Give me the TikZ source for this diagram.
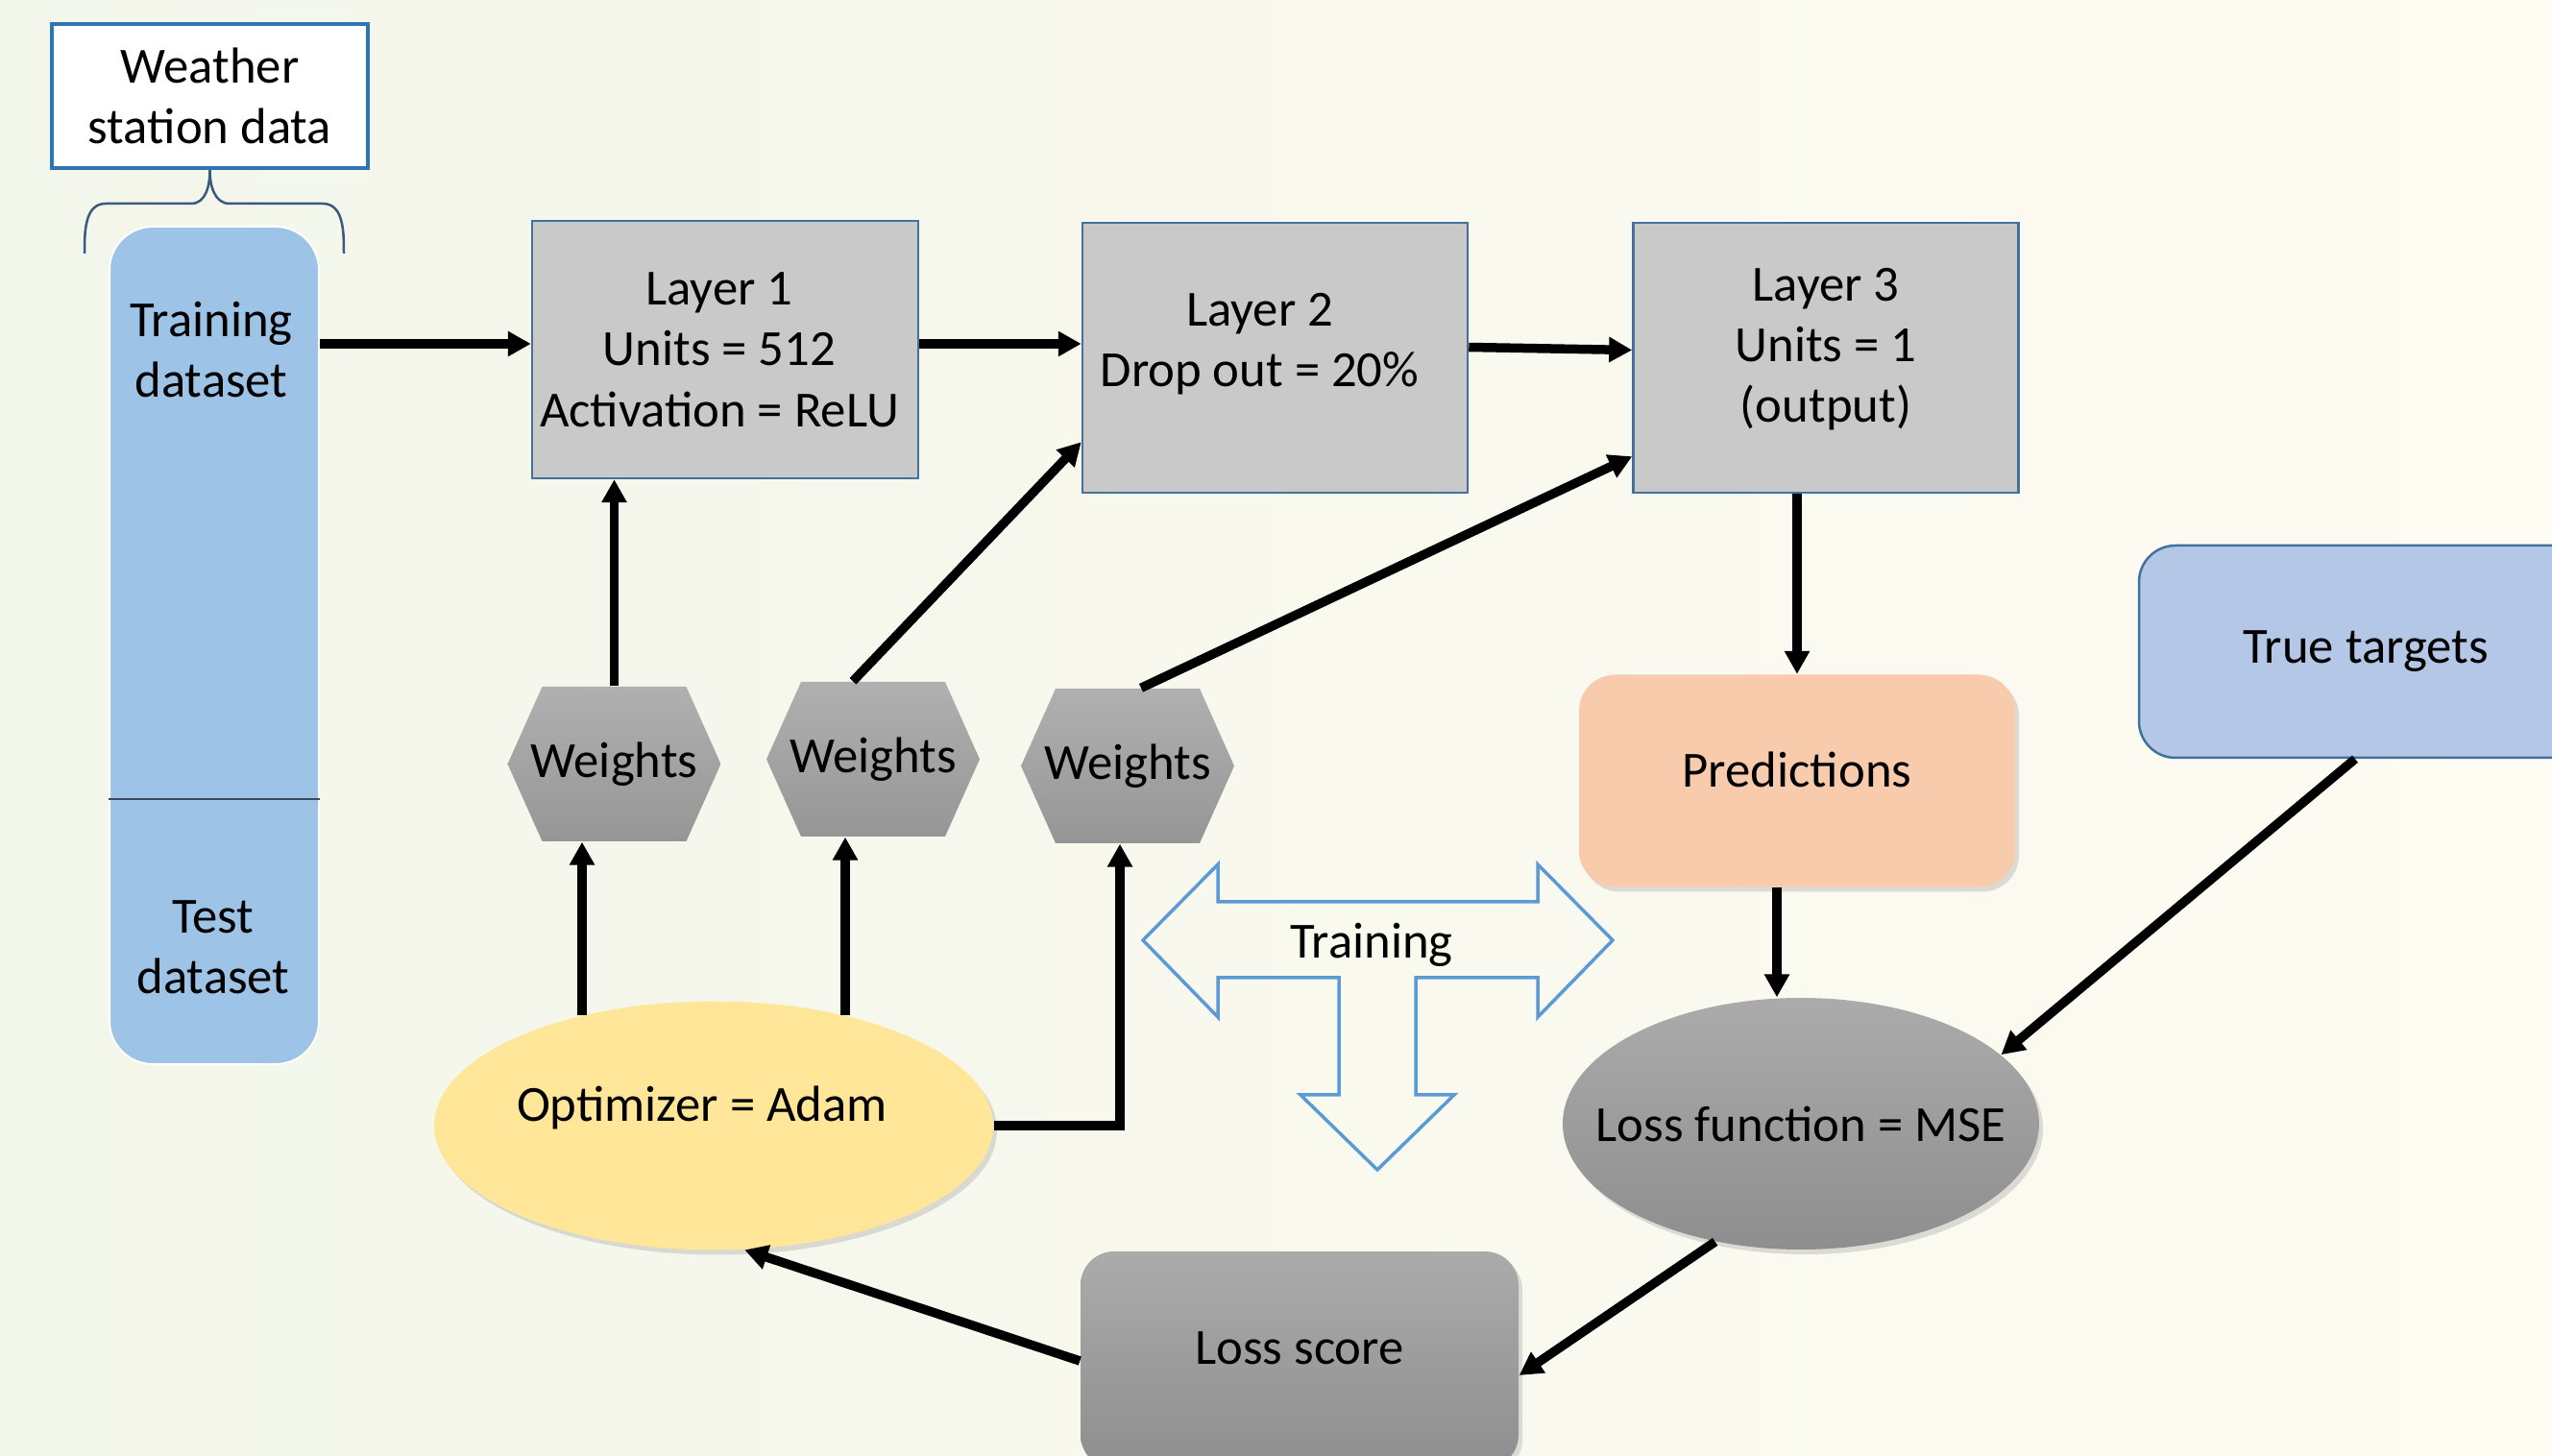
\documentclass[tikz,border=0pt]{standalone}
\usepackage{fontspec}
\setmainfont{Carlito}
\usepackage{tikz}
\usetikzlibrary{arrows.meta,positioning,shapes.geometric,shadows}
\definecolor{bgleft}{RGB}{243,246,234}
\definecolor{bgright}{RGB}{254,251,242}
\definecolor{wsblue}{RGB}{46,117,182}
\definecolor{bracecol}{RGB}{59,90,125}
\definecolor{colblue}{RGB}{157,195,230}
\definecolor{divcol}{RGB}{58,74,92}
\definecolor{boxblue}{RGB}{65,113,156}
\definecolor{layergray}{RGB}{201,201,201}
\definecolor{hexlight}{RGB}{176,176,176}
\definecolor{hexdark}{RGB}{150,150,150}
\definecolor{predorange}{RGB}{248,203,173}
\definecolor{targetblue}{RGB}{180,199,231}
\definecolor{optyellow}{RGB}{255,230,153}
\definecolor{lossgray}{RGB}{171,171,171}
\definecolor{lossdark}{RGB}{142,142,142}
\definecolor{trainblue}{RGB}{91,155,213}

\begin{document}
\begin{tikzpicture}[
    every node/.style={font=\fontsize{15pt}{18pt}\selectfont, align=center, inner sep=0pt},
    arr/.style={-{Triangle[length=0.24cm,width=0.25cm]}, line width=0.095cm, black},
    softshadow/.style={drop shadow={opacity=0.25, shadow xshift=0.04cm, shadow yshift=-0.05cm}},
    layer/.style={draw=boxblue, line width=0.025cm, fill=layergray, minimum width=4.01cm, minimum height=2.81cm},
    hexw/.style={minimum width=2.22cm, minimum height=1.61cm,
      path picture={\shade[top color=hexlight, bottom color=hexdark]
        ([xshift=0.36cm]path picture bounding box.north west) -- ([xshift=-0.36cm]path picture bounding box.north east)
        -- (path picture bounding box.east) -- ([xshift=-0.36cm]path picture bounding box.south east)
        -- ([xshift=0.36cm]path picture bounding box.south west) -- (path picture bounding box.west) -- cycle;}},
    roundbox/.style={rounded corners=0.38cm, minimum width=4.54cm, minimum height=2.21cm}
  ]
  \def\W{26.57} \def\H{15.16}
  \clip (0,0) rectangle (\W,-\H);
  \shade[left color=bgleft, right color=bgright] (0,0) rectangle (\W,-\H);

  % data
  \node[draw=wsblue, line width=0.045cm, fill=white, minimum width=3.29cm, minimum height=1.5cm] (ws) at (2.185,-1.0) {Weather\\station data};
  \draw[bracecol, line width=0.025cm] (0.88,-2.64) to[out=90,in=180] (1.10,-2.12) -- (1.99,-2.12)
    to[out=0,in=-90] (ws.south) to[out=-90,in=180] (2.39,-2.12) -- (3.36,-2.12) to[out=0,in=90] (3.58,-2.64);
  \node[draw=white, line width=0.02cm, fill=colblue, rounded corners=0.45cm, minimum width=2.18cm, minimum height=8.72cm] (data) at (2.23,-6.72) {};
  \draw[divcol, line width=0.025cm] (data.west |- 0,-8.32) -- (data.east |- 0,-8.32);
  \node (train) at (2.2,-3.64) {Training\\dataset};
  \node (test) at (2.22,-9.86) {Test\\dataset};

  % network
  \node[layer, minimum width=4.02cm, minimum height=2.68cm, label={[name=l1text, xshift=-0.06cm]center:{Layer 1\\Units = 512\\Activation = ReLU}}] (l1) at (7.55,-3.64) {};
  \node[layer, label={[name=l2text, xshift=-0.16cm, yshift=0.14cm]center:{Layer 2\\Drop out = 20\%}}] (l2) at (13.275,-3.725) {};
  \node[layer, label={[name=l3text, yshift=0.09cm]center:{Layer 3\\Units = 1\\(output)}}] (l3) at (19.01,-3.725) {};
  \node[hexw] (w1) at (6.395,-7.955) {Weights};
  \node[hexw] (w2) at (9.09,-7.905) {Weights};
  \node[hexw] (w3) at (11.74,-7.975) {Weights};

  \node[ellipse, fill=optyellow, softshadow, minimum width=5.82cm, minimum height=2.59cm,
    label={[name=opttext, xshift=-0.12cm, yshift=0.19cm]center:Optimizer = Adam}] (opt) at (7.43,-11.72) {};
  \node[roundbox, fill=predorange, softshadow, label={[name=predtext, yshift=0.12cm]center:Predictions}] (pred) at (18.71,-8.13) {};
  \node[roundbox, draw=boxblue, line width=0.025cm, fill=targetblue, minimum width=4.72cm] (tt) at (24.63,-6.785) {True targets};
  \node[ellipse, top color=lossgray, bottom color=lossdark, softshadow, minimum width=4.96cm, minimum height=2.62cm,
    label={[name=lftext]center:Loss function = MSE}] (lf) at (18.75,-11.70) {};
  \node[roundbox, rounded corners=0.35cm, top color=lossgray, bottom color=lossdark, softshadow, minimum width=4.56cm, minimum height=2.26cm,
    label={[name=lstext, yshift=0.12cm]center:Loss score}] (ls) at (13.53,-14.16) {};

  % training arrow
  \draw[trainblue, line width=0.035cm, line join=miter]
    (11.90,-9.79) -- (12.68,-9.00) -- (12.68,-9.39) -- (16.01,-9.39) -- (16.01,-9.00) -- (16.79,-9.79)
    -- (16.01,-10.59) -- (16.01,-10.18) -- (14.74,-10.18) -- (14.74,-11.40) -- (15.14,-11.40) -- (14.34,-12.18)
    -- (13.54,-11.40) -- (13.94,-11.40) -- (13.94,-10.18) -- (12.68,-10.18) -- (12.68,-10.59) -- cycle;
  \node (trainlbl) at (14.28,-9.84) {Training};

  % connectors
  \draw[arr] ([yshift=0.06cm]l1.west -| data.east) -- ([yshift=0.06cm]l1.west);
  \draw[arr] ([yshift=0.06cm]l1.east) -- ([yshift=0.06cm]l1.east -| l2.west);
  \draw[arr] ([yshift=0.11cm]l2.east) -- ([yshift=0.08cm]l3.west);
  \draw[arr] (w1.north) -- (w1.north |- l1.south);
  \draw[arr] ([xshift=-0.21cm]w2.north) -- ([yshift=0.54cm]l2.south west);
  \draw[arr] ([xshift=0.14cm]w3.north) -- ([yshift=0.39cm]l3.south west);
  \draw[arr] (opt.140) -- (opt.140 |- w1.south);
  \draw[arr] (opt.40) -- (opt.40 |- w2.south);
  \draw[arr] (opt.east) -| ([xshift=-0.08cm]w3.south);
  \draw[arr] (pred.north |- l3.south) -- (pred.north);
  \draw[arr] ([xshift=-0.21cm]pred.south) -- ([xshift=-0.21cm]pred.south |- lf.north);
  \draw[arr] ([xshift=-0.11cm]tt.south) -- (lf.19);
  \draw[arr] (lf.234) -- ([yshift=-0.16cm]ls.east);
  \draw[arr] ([yshift=-0.01cm]ls.west) -- (opt.-76);
\end{tikzpicture}
\end{document}
